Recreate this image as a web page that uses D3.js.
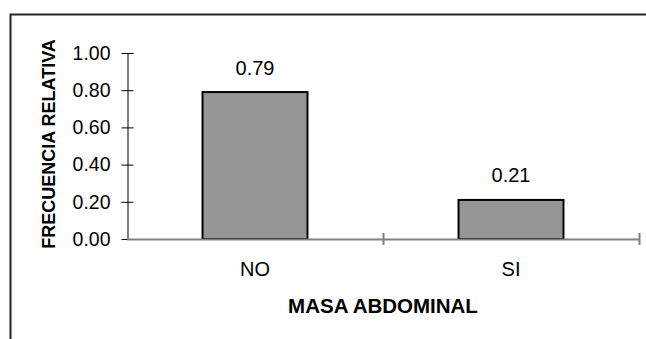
<!DOCTYPE html>
<html>
<head>
<meta charset="utf-8">
<script src="https://cdn.jsdelivr.net/npm/d3@7"></script>
<style>
  body { margin: 0; background: #fff; }
  svg { display: block; font-family: "Liberation Sans", Arial, sans-serif; }
</style>
</head>
<body>
<div id="vis"></div>
<script>
const FRAME_WIDTH = 646;
const FRAME_HEIGHT = 339;

// data
const categories = ["NO", "SI"];
const values = [0.79, 0.21];
const yTicks = [0, 0.2, 0.4, 0.6, 0.8, 1.0];

const PLOT = {left: 127, right: 639, top: 53, bottom: 239};

const svg = d3.select("#vis")
  .append("svg")
  .attr("width", FRAME_WIDTH)
  .attr("height", FRAME_HEIGHT);

// outer frame (only top and left visible)
svg.append("path")
  .attr("d", `M10.5,${FRAME_HEIGHT} V14.5 H${FRAME_WIDTH}`)
  .attr("fill", "none")
  .attr("stroke", "#222")
  .attr("stroke-width", 2);

const x = d3.scaleBand()
  .domain(categories)
  .range([PLOT.left, PLOT.right])
  .paddingInner(0.59)
  .paddingOuter(0.295);

const xEdges = d3.scaleLinear()
  .domain([0, categories.length])
  .range([PLOT.left, PLOT.right]);

const y = d3.scaleLinear()
  .domain([0, 1])
  .range([PLOT.bottom, PLOT.top]);

// y axis
const yAxis = svg.append("g")
  .attr("transform", `translate(${PLOT.left + 0.5},0)`)
  .call(d3.axisLeft(y).tickValues(yTicks).tickFormat(d3.format(".2f")).tickSizeInner(6).tickSizeOuter(0).tickPadding(11));
yAxis.select(".domain").attr("stroke", "#808080").attr("stroke-width", 2);
yAxis.selectAll(".tick line").attr("x2", 6).attr("x1", -6).attr("stroke", "#000");
yAxis.selectAll(".tick text")
  .attr("font-size", "19.5px")
  .attr("fill", "#000")
  .attr("font-family", "Liberation Sans, Arial, sans-serif");

// bars
svg.selectAll("rect.bar")
  .data(values)
  .enter().append("rect")
  .attr("class", "bar")
  .attr("x", (d, i) => x(categories[i]))
  .attr("y", d => y(d))
  .attr("width", x.bandwidth())
  .attr("height", d => y(0) - y(d))
  .attr("fill", "#969696")
  .attr("stroke", "#000")
  .attr("stroke-width", 2);

// x axis line + ticks at category edges
svg.append("line")
  .attr("x1", PLOT.left).attr("x2", PLOT.right)
  .attr("y1", y(0) + 0.5).attr("y2", y(0) + 0.5)
  .attr("stroke", "#808080")
  .attr("stroke-width", 2);

svg.selectAll("line.xtick")
  .data(d3.range(1, categories.length + 1))
  .enter().append("line")
  .attr("class", "xtick")
  .attr("x1", d => xEdges(d) + 0.5).attr("x2", d => xEdges(d) + 0.5)
  .attr("y1", y(0) - 6).attr("y2", y(0) + 6)
  .attr("stroke", "#808080")
  .attr("stroke-width", 2);

// category labels
svg.selectAll("text.xlab")
  .data(categories)
  .enter().append("text")
  .attr("class", "xlab")
  .attr("x", d => x(d) + x.bandwidth() / 2)
  .attr("y", 276)
  .attr("text-anchor", "middle")
  .attr("font-size", "20px")
  .text(d => d);

// value labels
svg.selectAll("text.val")
  .data(values)
  .enter().append("text")
  .attr("class", "val")
  .attr("x", (d, i) => x(categories[i]) + x.bandwidth() / 2)
  .attr("y", d => y(d) - 17.5)
  .attr("text-anchor", "middle")
  .attr("font-size", "20px")
  .text(d => d.toFixed(2));

// axis titles
svg.append("text")
  .attr("x", (PLOT.left + PLOT.right) / 2)
  .attr("y", 313)
  .attr("text-anchor", "middle")
  .attr("font-size", "20.5px")
  .attr("font-weight", "bold")
  .text("MASA ABDOMINAL");

svg.append("text")
  .attr("transform", "translate(55,144) rotate(-90)")
  .attr("text-anchor", "middle")
  .attr("font-size", "18px")
  .attr("font-weight", "bold")
  .text("FRECUENCIA RELATIVA");
</script>
</body>
</html>
